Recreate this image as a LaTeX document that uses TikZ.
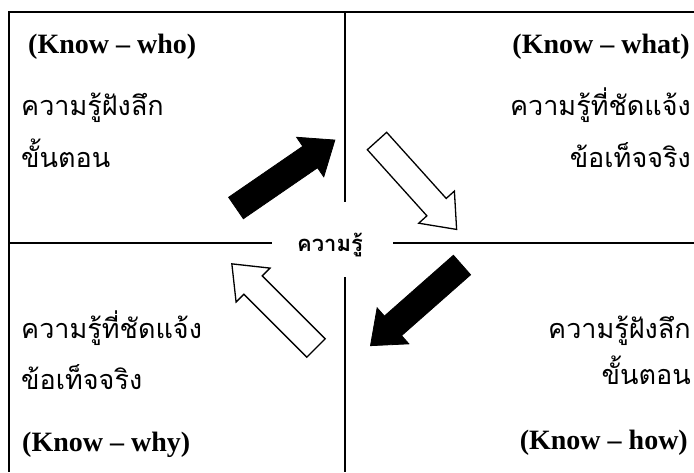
\documentclass[tikz,border=0pt]{standalone}
\usepackage{fontspec}
\setmainfont{Liberation Serif}
\newfontfamily\thaifont[Script=Thai]{Loma}
\begin{document}
\begin{tikzpicture}[x=1pt,y=-1pt,
  frame/.style={line width=1.8pt},
  know/.style={font=\fontsize{28}{30}\selectfont\bfseries, inner sep=0pt},
  thtext/.style={font=\thaifont\fontsize{27}{30}\selectfont, inner sep=0pt},
  thbold/.style={font=\thaifont\bfseries\fontsize{22}{26}\selectfont, inner sep=0pt},
  blockarrow/.pic={\path[pic actions] (0,-13) -- ({#1-30},-13) -- ({#1-30},-24) -- (#1,0) -- ({#1-30},24) -- ({#1-30},13) -- (0,13) -- cycle;},
  solidarrow/.style={fill=black, draw=black, line width=0.8pt},
  hollowarrow/.style={fill=white, draw=black, line width=1.3pt, line join=miter}
  ]
\useasboundingbox (0,0) rectangle (694,472);
% frame and dividers
\coordinate (tr) at (694,12);
\coordinate (tl) at (9,12);
\coordinate (bl) at (9,472);
\draw[frame] (tr) -- (tl) -- (bl);
\coordinate (vt) at (345,12);
\coordinate (vm1) at (345,202);
\coordinate (vm2) at (345,277);
\coordinate (vb) at (345,472);
\draw[frame] (vt) -- (vm1);
\draw[frame] (vm2) -- (vb);
\coordinate (hl) at (9,243);
\coordinate (hm1) at (272,243);
\coordinate (hm2) at (393,243);
\coordinate (hr) at (694,243);
\draw[frame] (hl) -- (hm1);
\draw[frame] (hm2) -- (hr);
\node[thbold, anchor=base] (centre) at (330,251) {ความรู้};
% arrows
\coordinate (a1) at (236,208);
\coordinate (a2) at (377,141);
\coordinate (a3) at (462,265);
\coordinate (a4) at (316,348);
\pic[solidarrow, rotate=34.5] at (a1) {blockarrow=120};
\pic[hollowarrow, rotate=-48] at (a2) {blockarrow=119};
\pic[solidarrow, rotate=221.4] at (a3) {blockarrow=122};
\pic[hollowarrow, rotate=135] at (a4) {blockarrow=119};
% top-left
\node[know, anchor=base west] (k1) at (28,53) {(Know – who)};
\node[thtext, anchor=base west] (t1a) at (21,115) {ความรู้ฝังลึก};
\node[thtext, anchor=base west] (t1b) at (21,167) {ขั้นตอน};
% top-right
\node[know, anchor=base east] (k2) at (690,53) {(Know – what)};
\node[thtext, anchor=base east] (t2a) at (691,115) {ความรู้ที่ชัดแจ้ง};
\node[thtext, anchor=base east] (t2b) at (691,167) {ข้อเท็จจริง};
% bottom-left
\node[thtext, anchor=base west] (t3a) at (21,338) {ความรู้ที่ชัดแจ้ง};
\node[thtext, anchor=base west] (t3b) at (21,389) {ข้อเท็จจริง};
\node[know, anchor=base west] (k3) at (22,451) {(Know – why)};
% bottom-right
\node[thtext, anchor=base east] (t4a) at (691,338) {ความรู้ฝังลึก};
\node[thtext, anchor=base east] (t4b) at (691,384) {ขั้นตอน};
\node[know, anchor=base east] (k4) at (688,449) {(Know – how)};
\end{tikzpicture}
\end{document}
